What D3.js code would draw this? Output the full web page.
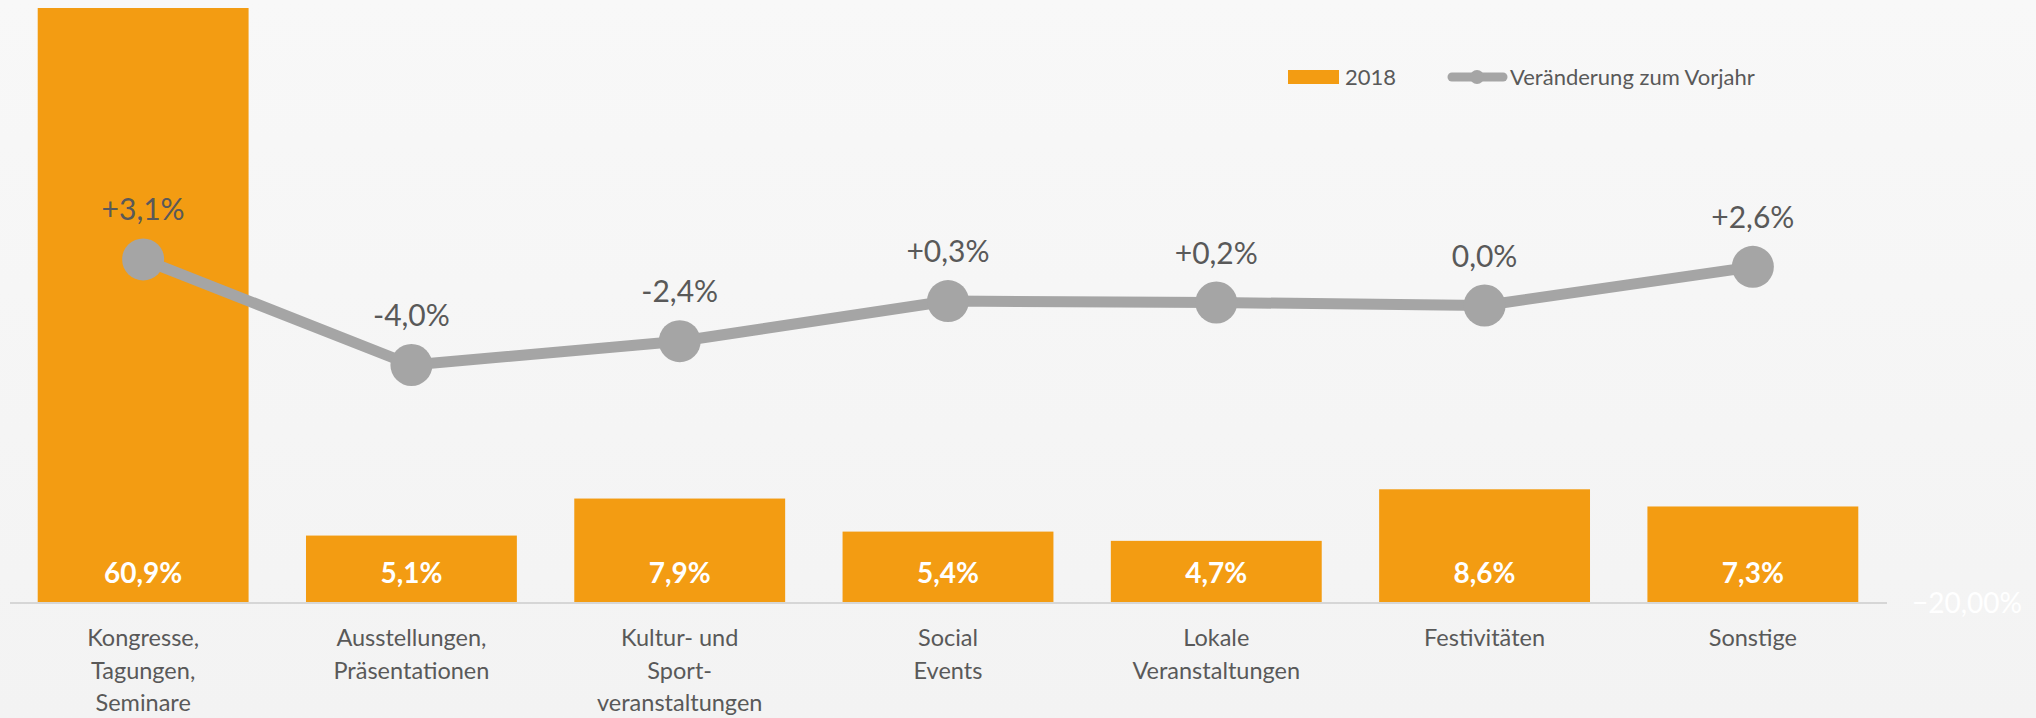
<!DOCTYPE html>
<html><head><meta charset="utf-8">
<script src="https://cdn.jsdelivr.net/npm/d3@7"></script>
<style>html,body{margin:0;padding:0;background:#f4f4f4;overflow:hidden}svg{display:block}</style>
</head><body>
<svg id="c" width="2036" height="718"></svg>
<script>
const categories = [
  ["Kongresse,", "Tagungen,", "Seminare"],
  ["Ausstellungen,", "Präsentationen"],
  ["Kultur- und", "Sport-", "veranstaltungen"],
  ["Social", "Events"],
  ["Lokale", "Veranstaltungen"],
  ["Festivitäten"],
  ["Sonstige"]
];
const share2018 = [60.9, 5.1, 7.9, 5.4, 4.7, 8.6, 7.3];
const change = [3.1, -4.0, -2.4, 0.3, 0.2, 0.0, 2.6];
const shareLabels = ["60,9%", "5,1%", "7,9%", "5,4%", "4,7%", "8,6%", "7,3%"];
const changeLabels = ["+3,1%", "-4,0%", "-2,4%", "+0,3%", "+0,2%", "0,0%", "+2,6%"];
const legendLabels = ["2018", "Veränderung zum Vorjahr"];
const rightAxisTicks = [-20];

const W = 2036, H = 718;
const plot = {left: 9, right: 1887, top: 8, bottom: 603};
const FONT = "Lato, 'Open Sans', sans-serif";
const ORANGE = "#F39C12", GREY = "#A5A5A5", TXT = "#595959";

const svg = d3.select("#c");

// background
const defs = svg.append("defs");
const bg = defs.append("linearGradient").attr("id","bg").attr("x1",0).attr("y1",0).attr("x2",0).attr("y2",1);
bg.append("stop").attr("offset","0%").attr("stop-color","#f8f8f8");
bg.append("stop").attr("offset","100%").attr("stop-color","#f3f3f3");
svg.append("rect").attr("width",W).attr("height",H).attr("fill","url(#bg)");
defs.append("clipPath").attr("id","plotclip").append("rect")
  .attr("x", 0).attr("y", plot.top).attr("width", W).attr("height", plot.bottom - plot.top);

const idx = d3.range(categories.length);
const x = d3.scaleBand().domain(idx).range([plot.left, plot.right]).paddingInner(0.214).paddingOuter(0.107);
const y = d3.scaleLinear().domain([0, 45]).range([plot.bottom, plot.top]);
const y2 = d3.scaleLinear().domain([-20, 20]).range([plot.bottom, plot.top]);

// bars
svg.append("g").attr("clip-path","url(#plotclip)").selectAll("rect").data(idx).join("rect")
  .attr("x", i => x(i)).attr("width", x.bandwidth())
  .attr("y", i => y(share2018[i])).attr("height", i => y(0) - y(share2018[i]))
  .attr("fill", ORANGE);

// axis line
svg.append("line").attr("x1", plot.left + 1).attr("x2", plot.right).attr("y1", y(0)).attr("y2", y(0))
  .attr("stroke", "#d6d6d6").attr("stroke-width", 2);

// bar labels
svg.append("g").selectAll("text").data(idx).join("text")
  .attr("x", i => x(i) + x.bandwidth()/2).attr("y", y(0) - 20)
  .attr("text-anchor","middle").attr("font-family",FONT).attr("font-weight","bold")
  .attr("font-size", 28).attr("fill","#fff").text(i => shareLabels[i]);

// category labels
const cat = svg.append("g").selectAll("text").data(idx).join("text")
  .attr("text-anchor","middle").attr("font-family",FONT).attr("font-size",23.5).attr("fill",TXT);
cat.each(function(i){
  const t = d3.select(this);
  categories[i].forEach((ln, k) => {
    t.append("tspan").attr("x", x(i) + x.bandwidth()/2).attr("y", 646 + k*32.5).text(ln);
  });
});

// right axis label
svg.append("g").selectAll("text").data(rightAxisTicks).join("text")
  .attr("x", 2022).attr("y", d => y2(d) + 10).attr("text-anchor","end")
  .attr("font-family",FONT).attr("font-size",28).attr("fill","#ffffff")
  .text(d => d3.format(".2f")(d).replace(".", ",") + "%");

// line
const cx = i => x(i) + x.bandwidth()/2;
svg.append("path").datum(idx)
  .attr("d", d3.line().x(cx).y(i => y2(change[i])))
  .attr("fill","none").attr("stroke",GREY).attr("stroke-width",11).attr("stroke-linejoin","round");
svg.append("g").selectAll("circle").data(idx).join("circle")
  .attr("cx", cx).attr("cy", i => y2(change[i])).attr("r", 21).attr("fill", GREY);
svg.append("g").selectAll("text").data(idx).join("text")
  .attr("x", cx).attr("y", i => y2(change[i]) - 39)
  .attr("text-anchor","middle").attr("font-family",FONT).attr("font-size",30).attr("fill",TXT)
  .text(i => changeLabels[i]);

// legend
const lg = svg.append("g");
lg.append("rect").attr("x",1288).attr("y",70).attr("width",51).attr("height",14).attr("fill",ORANGE);
lg.append("text").attr("x",1345).attr("y",85).attr("font-family",FONT).attr("font-size",22).attr("fill",TXT).text(legendLabels[0]);
lg.append("line").attr("x1",1452).attr("x2",1503).attr("y1",77).attr("y2",77)
  .attr("stroke",GREY).attr("stroke-width",9).attr("stroke-linecap","round");
lg.append("circle").attr("cx",1477).attr("cy",77).attr("r",7).attr("fill",GREY);
lg.append("text").attr("x",1510).attr("y",85).attr("font-family",FONT).attr("font-size",22).attr("fill",TXT).text(legendLabels[1]);
</script>
</body></html>
